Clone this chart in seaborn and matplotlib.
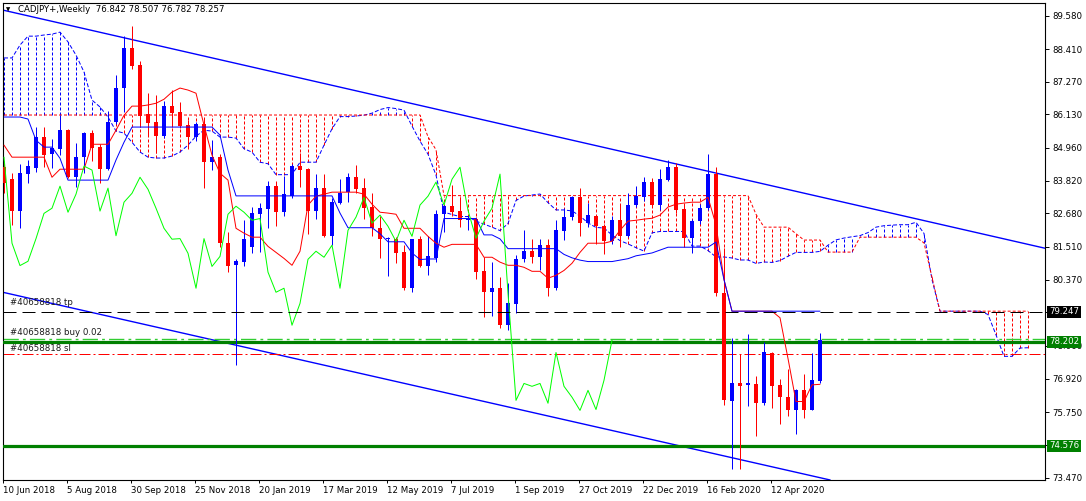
import numpy as np
import pandas as pd
import matplotlib
matplotlib.use("Agg")
import matplotlib.pyplot as plt
import matplotlib.transforms as mtrans
import seaborn as sns

# weekly CADJPY candles (bar 0 = week of 10 Jun 2018)
opens = [84.30, 83.87, 82.76, 84.07, 84.26, 85.34, 84.75, 84.92, 85.58, 83.94,
         84.64, 85.48, 85.00, 84.22, 85.86, 87.05, 88.45, 87.85, 86.15, 85.86,
         85.38, 86.42, 86.20, 85.76, 85.34, 85.79, 84.47, 84.64, 81.64, 80.87,
         81.00, 81.50, 82.65, 82.82, 83.63, 82.72, 83.30, 84.33, 84.23, 82.76,
         83.56, 81.90, 83.03, 83.42, 83.94, 83.56, 82.90, 82.16, 81.78, 81.80,
         81.32, 80.07, 81.80, 80.83, 81.12, 82.65, 82.93, 82.75, 82.44, 82.50,
         80.66, 79.93, 80.07, 78.78, 79.51, 81.08, 81.36, 81.15, 81.57, 80.07,
         82.06, 82.55, 83.24, 82.34, 82.58, 82.23, 81.70, 82.44, 81.88, 82.97,
         83.24, 83.77, 82.97, 83.84, 84.29, 82.83, 81.81, 82.41, 82.86, 84.05,
         79.89, 76.13, 76.75, 76.68, 76.72, 76.06, 77.80, 76.68, 76.27, 75.81,
         76.51, 75.84, 76.842]
highs = [84.50, 84.08, 84.40, 84.54, 85.69, 85.69, 85.27, 86.10, 85.62, 85.13,
         85.52, 85.60, 85.10, 86.25, 87.50, 88.85, 89.20, 88.00, 86.88, 86.80,
         86.60, 86.98, 86.56, 85.93, 85.85, 86.00, 85.23, 84.75, 82.02, 81.10,
         82.44, 82.90, 83.03, 83.80, 83.80, 84.00, 84.40, 84.80, 84.25, 84.07,
         84.07, 83.20, 83.87, 84.08, 84.36, 83.90, 83.38, 82.60, 81.85, 81.85,
         81.57, 81.80, 81.90, 81.90, 82.79, 82.97, 83.66, 83.24, 82.60, 82.55,
         81.16, 81.00, 80.45, 80.24, 81.22, 82.09, 81.78, 81.80, 81.80, 82.44,
         82.86, 83.28, 83.56, 83.03, 82.60, 82.30, 82.60, 82.97, 83.38, 83.63,
         83.94, 83.90, 84.22, 84.54, 84.43, 83.00, 82.50, 83.00, 84.75, 84.30,
         81.46, 78.35, 77.76, 78.46, 77.00, 78.18, 77.85, 76.89, 77.24, 76.55,
         77.07, 77.80, 78.507]
lows = [83.40, 82.27, 82.16, 83.73, 84.12, 84.30, 84.26, 84.71, 83.90, 83.60,
        84.08, 84.50, 83.73, 84.20, 85.80, 86.20, 87.70, 85.68, 85.41, 84.80,
        85.30, 85.68, 85.65, 84.92, 85.20, 83.56, 84.19, 81.50, 80.62, 77.38,
        80.83, 81.30, 81.32, 82.16, 82.23, 82.58, 83.20, 83.60, 81.95, 82.50,
        81.85, 81.57, 83.00, 83.08, 83.40, 82.50, 81.90, 81.11, 80.50, 80.95,
        80.00, 79.93, 80.80, 80.52, 80.97, 82.02, 82.60, 82.20, 82.09, 80.40,
        79.06, 79.09, 78.70, 78.60, 79.20, 81.00, 80.94, 80.69, 79.79, 80.00,
        81.74, 82.44, 81.88, 82.20, 81.60, 81.28, 81.60, 81.50, 81.85, 82.90,
        83.10, 82.90, 82.80, 83.80, 82.70, 81.50, 81.30, 82.30, 82.80, 79.80,
        75.99, 73.78, 73.78, 75.95, 74.93, 76.00, 75.88, 75.32, 75.63, 74.97,
        75.56, 75.84, 76.782]
closes = [83.75, 82.76, 84.08, 84.33, 85.34, 84.71, 84.95, 85.58, 83.94, 84.64,
          85.48, 84.96, 84.22, 85.86, 87.05, 88.45, 87.82, 86.07, 85.83, 85.38,
          86.42, 86.17, 85.72, 85.34, 85.79, 84.47, 84.64, 81.64, 80.86, 81.01,
          81.80, 82.68, 82.86, 83.63, 82.72, 83.35, 84.33, 84.19, 82.76, 83.56,
          81.90, 83.07, 83.38, 83.94, 83.52, 82.86, 82.16, 81.78, 81.80, 81.29,
          80.07, 81.80, 80.83, 81.18, 82.65, 82.93, 82.72, 82.44, 82.50, 80.63,
          79.93, 80.07, 78.78, 79.54, 81.08, 81.36, 81.15, 81.57, 80.07, 82.09,
          82.55, 83.24, 82.34, 82.62, 82.23, 81.70, 82.44, 81.88, 82.97, 83.28,
          83.77, 82.97, 83.87, 84.29, 82.79, 81.81, 82.41, 82.86, 84.05, 79.89,
          76.16, 76.75, 76.65, 76.75, 76.06, 77.83, 76.65, 76.27, 75.81, 76.51,
          75.84, 76.86, 78.257]

# ichimoku lines as drawn on the chart
tenkan = [85.06, 84.64, 84.64, 84.64, 84.64, 84.64, 83.94, 84.22, 84.22, 84.22,
          84.22, 85.09, 85.09, 85.09, 85.58, 86.10, 86.42, 86.42, 86.46, 86.52,
          86.66, 86.91, 87.05, 86.98, 86.87, 85.76, 84.71, 84.08, 83.84, 82.16,
          81.99, 81.85, 81.85, 81.53, 81.32, 81.11, 80.87, 81.36, 82.97, 83.28,
          83.35, 83.42, 83.42, 83.42, 83.42, 83.35, 83.00, 82.72, 82.69, 82.65,
          82.16, 82.16, 82.16, 81.88, 81.64, 81.50, 81.60, 81.60, 81.60, 81.60,
          81.15, 81.15, 80.98, 80.87, 80.87, 80.80, 80.66, 80.66, 80.42, 80.52,
          80.69, 80.94, 81.32, 81.64, 81.64, 81.64, 81.71, 82.09, 82.41, 82.44,
          82.48, 82.51, 82.62, 82.90, 83.00, 83.04, 83.07, 83.07, 83.24, 82.28,
          80.37, 79.27, 79.27, 79.27, 79.27, 79.27, 79.27, 79.04, 77.62, 76.12,
          76.12, 76.70, 76.72]
kijun = [86.04, 86.04, 86.04, 85.97, 85.23, 84.99, 84.99, 84.60, 83.84, 83.84,
         83.84, 83.84, 83.84, 83.84, 84.54, 85.16, 85.69, 85.69, 85.69, 85.69,
         85.69, 85.69, 85.69, 85.69, 85.69, 85.69, 85.69, 85.41, 84.19, 83.29,
         83.29, 83.29, 83.29, 83.29, 83.29, 83.29, 83.29, 83.29, 83.29, 83.29,
         83.29, 83.29, 82.69, 82.18, 82.18, 82.18, 82.18, 81.97, 81.69, 81.69,
         81.69, 81.30, 81.07, 81.09, 81.09, 82.50, 82.50, 82.50, 82.50, 82.50,
         81.93, 81.93, 81.79, 81.45, 81.45, 81.45, 81.45, 81.45, 81.45, 81.45,
         81.25, 81.13, 81.05, 81.00, 81.00, 81.00, 81.00, 81.05, 81.10, 81.20,
         81.25, 81.30, 81.40, 81.50, 81.50, 81.50, 81.50, 81.50, 81.50, 81.68,
         80.37, 79.27, 79.27, 79.27, 79.27, 79.27, 79.27, 79.27, 79.27, 79.27,
         79.27, 79.27, 79.27]
# span A for the first 26 bars (comes from weeks before the visible history)
span_a_early = [88.10, 88.10, 88.55, 88.86, 88.86, 88.90, 88.93, 89.00, 88.66, 88.20,
                87.61, 86.63, 86.39, 86.04, 85.55, 85.48, 85.16, 84.82, 84.64, 84.61,
                84.61, 84.68, 84.82, 85.06, 85.37, 85.58]
span_b = ([86.11] * 53 + [85.35, 84.90, 83.30] + [83.30] * 38 + [82.65]
          + [82.20] * 4 + [81.97] + [81.75] * 3 + [81.33] * 4 + [81.85] * 8
          + [81.65, 80.45] + [79.27] * 12)

date_labels = ["10 Jun 2018", "5 Aug 2018", "30 Sep 2018", "25 Nov 2018", "20 Jan 2019",
               "17 Mar 2019", "12 May 2019", "7 Jul 2019", "1 Sep 2019", "27 Oct 2019",
               "22 Dec 2019", "16 Feb 2020", "12 Apr 2020"]
price_ticks = [89.58, 88.41, 87.27, 86.13, 84.96, 83.82, 82.68, 81.51, 80.37,
               79.23, 78.06, 76.92, 75.75, 74.61, 73.47]
hidden_ticks = [79.23, 74.61]   # covered by the level boxes on the scale

tp_level = 79.247
buy_level = 78.31
sl_level = 77.76
hline_upper = 78.202
hline_lower = 74.576
upper_trend = ([0, 128], [89.76, 81.60])
lower_trend = ([0, 100], [79.92, 73.59])

header = "CADJPY+,Weekly  76.842 78.507 76.782 78.257"

# -------------------------
sns.set_theme(style="white")
plt.rcParams['font.family'] = ['DejaVu Sans']

n = len(closes)
bars = np.arange(n)
o = np.array(opens); c = np.array(closes)
h = np.array(highs); l = np.array(lows)
span_a = np.concatenate([span_a_early, (np.array(tenkan) + np.array(kijun)) / 2])
ext = np.arange(len(span_a))
sb = np.array(span_b)

W, H = 1086, 501
fig = plt.figure(figsize=(W / 100, H / 100), dpi=100)
ax = fig.add_axes([3 / W, 21 / H, 1042 / W, 477 / H])
ax.set_xlim(-0.125, 130.125)
ax.set_ylim(73.383, 90.016)

BLUE = "#0000FF"
RED = "#FF0000"
px = 0.72  # one pixel in points

# cloud hatching
top_is_a = span_a >= sb
ax.vlines(ext, np.minimum(span_a, sb), np.maximum(span_a, sb),
          colors=np.where(top_is_a, BLUE, RED), lw=px,
          linestyles=[(0, (3, 2))], zorder=1)
cloud = pd.DataFrame({"bar": ext, "a": span_a, "b": sb})
sns.lineplot(data=cloud, x="bar", y="a", color=BLUE, lw=px, linestyle=(0, (4, 2)),
             ax=ax, zorder=2, legend=False)
sns.lineplot(data=cloud, x="bar", y="b", color=RED, lw=px, linestyle=(0, (3, 2)),
             ax=ax, zorder=2, legend=False)

# trend lines
ax.axline((upper_trend[0][0], upper_trend[1][0]), (upper_trend[0][1], upper_trend[1][1]),
          color=BLUE, lw=1.0, zorder=2)
ax.axline((lower_trend[0][0], lower_trend[1][0]), (lower_trend[0][1], lower_trend[1][1]),
          color=BLUE, lw=1.0, zorder=2)

# order / level lines
ax.axhline(tp_level, color="black", lw=px, dashes=(13, 6), zorder=6)
ax.axhline(buy_level, color="#32CD32", lw=1.0, dashes=(11, 3, 2, 3), zorder=2)
ax.axhline(sl_level, color=RED, lw=px, dashes=(11, 3, 2, 3), zorder=2)
ax.axhline(hline_upper, color="#008000", lw=2.3, zorder=3)
ax.axhline(hline_lower, color="#008000", lw=2.3, zorder=3)

# candles
col = np.where(c >= o, BLUE, RED)
ax.vlines(bars, l, h, colors=col, lw=px, zorder=4)
body = np.maximum(np.abs(c - o), 0.04)
ax.bar(bars, body, bottom=np.minimum(o, c), width=0.62, color=col, linewidth=0, zorder=4)

# tenkan / kijun / chikou
lines = pd.DataFrame({"bar": bars, "tenkan": tenkan, "kijun": kijun})
sns.lineplot(data=lines, x="bar", y="tenkan", color=RED, lw=px, ax=ax, zorder=5, legend=False)
sns.lineplot(data=lines, x="bar", y="kijun", color=BLUE, lw=px, ax=ax, zorder=5, legend=False)
chikou = pd.DataFrame({"bar": bars[:n - 26], "lag": closes[26:]})
sns.lineplot(data=chikou, x="bar", y="lag", color="#00FF00", lw=px, ax=ax, zorder=5, legend=False)

# order labels
blend = mtrans.blended_transform_factory(ax.transAxes, ax.transData)
fs = 6.2
for lvl, txt, dy in [(tp_level, "#40658818 tp", 9.5),
                     (buy_level, "#40658818 buy 0.02", 6.5),
                     (sl_level, "#40658818 sl", 6)]:
    tr = mtrans.offset_copy(blend, fig=fig, y=dy, units="dots")
    ax.text(0.0067, lvl, txt, transform=tr, ha="left", va="center",
            fontsize=fs, color="#1a1a1a", zorder=6)

# axes styling
for s in ax.spines.values():
    s.set_color("black")
    s.set_linewidth(0.8)
ax.set_xlabel("")
ax.set_ylabel("")
ax.yaxis.tick_right()
ax.set_yticks(price_ticks)
ax.set_yticklabels(["" if v in hidden_ticks else f"{v:.3f}" for v in price_ticks])
ax.set_xticks(bars[::8][:len(date_labels)] - 0.125)
ax.set_xticklabels(date_labels, ha="left")
ax.tick_params(axis="y", which="major", right=True, left=False, direction="out",
               length=3, width=0.7, pad=2, labelsize=fs, colors="black")
ax.tick_params(axis="x", which="major", bottom=True, direction="out",
               length=2.5, width=0.7, pad=1.5, labelsize=fs, colors="black")

# price boxes on the right scale
for lvl, txt, bg in [(tp_level, "79.247", "black"),
                     (hline_upper, "78.202", "#008000"),
                     (hline_lower, "74.576", "#008000")]:
    tr = mtrans.offset_copy(blend, fig=fig, x=4, units="dots")
    ax.text(1.0, lvl, txt, transform=tr, ha="left", va="center", fontsize=fs,
            color="white", clip_on=False, zorder=20,
            bbox=dict(boxstyle="square,pad=0.18", fc=bg, ec="none"))

# header
fig.text(6 / W, 1 - 10 / H, "\u25bc", fontsize=4, color="black", va="center", ha="left")
fig.text(18 / W, 1 - 10 / H, header, fontsize=fs, color="black", va="center", ha="left")

fig.savefig("out.png", dpi=100, facecolor="white")
